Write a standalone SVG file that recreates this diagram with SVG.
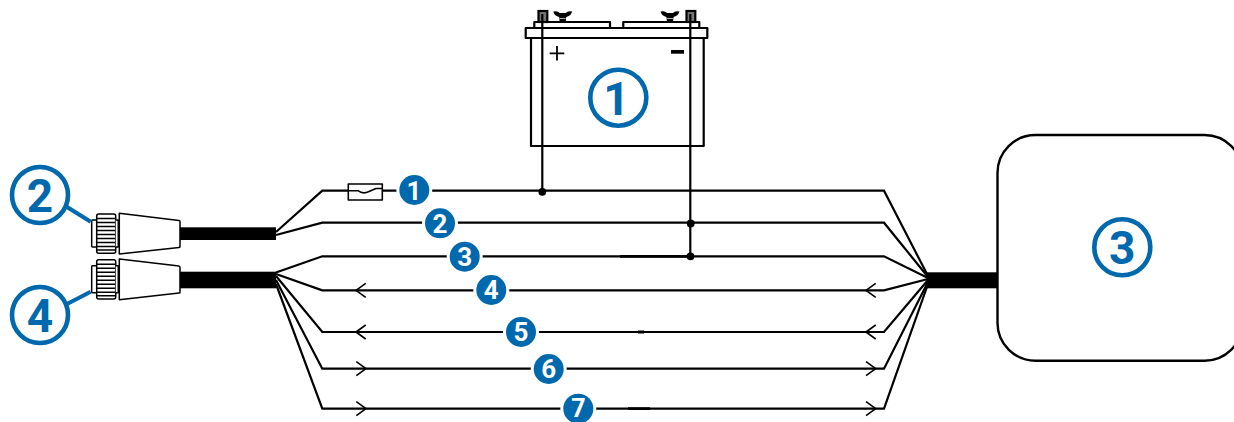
<svg xmlns="http://www.w3.org/2000/svg" width="1234" height="422" viewBox="0 0 1234 422">
<style>
.l{fill:none;stroke:#000;stroke-width:2.2;stroke-linejoin:round}
.a{fill:none;stroke:#000;stroke-width:1.600;stroke-linejoin:round}
.w{fill:none;stroke:#000;stroke-width:2.2;stroke-linejoin:miter}
.o{fill:#fff;stroke:#000;stroke-width:1.5;stroke-linejoin:round}
.k{fill:#000}
.rib{stroke:#000;stroke-width:1.500;fill:none}
.ring{fill:#fff;stroke:#0068ac;stroke-width:4.6}
.lead{stroke:#0068ac;stroke-width:4;fill:none}
.big{font:bold 46px Roboto,"Liberation Sans",Arial,sans-serif;fill:#0068ac;text-anchor:middle}
.bd{fill:#0068ac;stroke:#fff;stroke-width:6;paint-order:stroke}
.bt{font:bold 26px Roboto,"Liberation Sans",Arial,sans-serif;fill:#fff;text-anchor:middle}
</style>
<defs>
<g id="plug">
<path class="o" d="M96.700 220H92.500Q91.700 220 91.700 221V246Q91.700 247 92.500 247H96.700"/>
<rect class="o" x="96.700" y="214" width="19" height="39.300" rx="2"/>
<path class="rib" d="M97 218.500H115.500M97 222.500H115.500M97 226.500H115.500M97 230.500H115.500M97 234.500H115.500M97 238.500H115.500M97 242.500H115.500M97 246.500H115.500M97 250H115.500"/>
<path class="o" d="M115.700 220H118.300V247H115.700"/>
<path class="o" d="M119.300 213.300L179 220.400Q180 220.700 180 221.500V246.500Q180 247.300 179 247.400L119.300 254Z"/>
</g>
<g id="nut">
<path class="k" d="M-9.500 -2.500Q-5 -3.500 -3 -1L3 -1Q5 -3.500 9.500 -2.500Q8 2 3.500 3L3 8.500H-3L-3.500 3Q-8 2 -9.500 -2.500Z"/>
<path stroke="#fff" stroke-width=".7" d="M-3 4.500H3"/>
</g>
<path id="al" class="a" d="M9.700 -7L0 0L9.700 7"/>
<path id="ar" class="a" d="M-9.700 -7L0 0L-9.700 7"/>
</defs>

<g id="node-battery">
<rect class="l" x="531" y="38" width="172.700" height="108"/>
<rect class="l" x="534.300" y="22" width="75.700" height="6"/>
<rect class="l" x="623.300" y="22" width="76" height="6"/>
<rect class="l" x="525.700" y="28" width="181.600" height="10"/>
<rect x="538.500" y="11" width="8.800" height="11" fill="#777" stroke="#000" stroke-width="2.200"/>
<rect x="686.500" y="11" width="8.800" height="11" fill="#777" stroke="#000" stroke-width="2.200"/>
<use href="#nut" x="562.700" y="14"/>
<use href="#nut" x="670" y="14"/>
<path stroke="#000" stroke-width="1.800" d="M549.700 53.300H564.300M557 46V60.600"/>
<rect class="k" x="671" y="50" width="13" height="3.700"/>
<circle class="ring" cx="618.300" cy="97.700" r="28"/>
<text class="big" x="616.500" y="115">1</text>
</g>

<g id="connectors">
<path class="w" d="M542.300 14V190.700M690.300 14V256.300"/>
<path class="w" d="M276 232L322.300 190.700H348.300M382.300 190.700H884L928 276"/>
<path class="w" d="M276 235L322.300 222.700H884L928 277"/>
<path class="w" d="M276 272.500L322.300 256.300H884L928 278"/>
<path class="w" d="M276 274L322.300 290.300H884L928 279"/>
<path class="w" d="M276 276L322.300 332H884L928 280"/>
<path class="w" d="M276 280L322.300 368.700H884L928 282"/>
<path class="w" d="M276 284L322.300 408.700H884L928 284"/>
<path class="a" d="M348.300 190.700H358Q363 194.500 369 191.500L376 188.500H382.300"/>
<path stroke="#000" stroke-width="2.800" d="M620 256.300H690M638 332H644M628 408.700H650"/>
<circle class="k" cx="542.300" cy="191.800" r="3.900"/>
<circle class="k" cx="690.700" cy="223.500" r="3.900"/>
<circle class="k" cx="690.500" cy="256.300" r="3.900"/>
<use href="#al" x="356" y="290.300"/>
<use href="#al" x="356" y="332"/>
<use href="#ar" x="366" y="368.700"/>
<use href="#ar" x="366" y="408.700"/>
<use href="#al" x="866" y="290.300"/>
<use href="#al" x="866" y="332"/>
<use href="#ar" x="875.700" y="368.700"/>
<use href="#ar" x="875.700" y="408.700"/>
</g>

<g id="node-fuse"><rect x="348.300" y="184" width="34" height="16" class="a"/></g>

<g id="node-connector-2">
<rect class="k" x="180" y="227.300" width="96" height="12.700"/>
<use href="#plug"/>
<path class="lead" d="M67 207L90.700 221.700"/>
<circle class="ring" cx="40" cy="195" r="28"/>
<text class="big" x="40" y="211.500">2</text>
</g>
<g id="node-connector-4">
<rect class="k" x="180" y="271.700" width="96" height="16.600"/>
<use href="#plug" y="45.700"/>
<path class="lead" d="M67 304L90.700 291.700"/>
<circle class="ring" cx="40" cy="315" r="28"/>
<text class="big" x="40" y="331.500">4</text>
</g>

<g id="node-device">
<rect class="k" x="927" y="272.300" width="71" height="16"/>
<rect x="997.500" y="135" width="245" height="225.700" rx="38" fill="#fff" stroke="#000" stroke-width="2.400"/>
<circle class="ring" cx="1122.300" cy="247.300" r="28"/>
<text class="big" x="1122.300" y="263.500">3</text>
</g>

<g id="badge-1"><circle class="bd" cx="414.300" cy="190" r="15"/><text class="bt" x="414" y="199.500">1</text></g>
<g id="badge-2"><circle class="bd" cx="440" cy="223.300" r="15"/><text class="bt" x="440" y="232.600">2</text></g>
<g id="badge-3"><circle class="bd" cx="464.700" cy="256.700" r="15"/><text class="bt" x="464.700" y="266">3</text></g>
<g id="badge-4"><circle class="bd" cx="491.300" cy="290" r="15"/><text class="bt" x="491.300" y="299.300">4</text></g>
<g id="badge-5"><circle class="bd" cx="521" cy="332" r="15"/><text class="bt" x="521" y="341.300">5</text></g>
<g id="badge-6"><circle class="bd" cx="548.700" cy="369" r="15"/><text class="bt" x="548.700" y="378.300">6</text></g>
<g id="badge-7"><circle class="bd" cx="578.300" cy="408.700" r="15"/><text class="bt" x="578.300" y="416.500" style="font-size:25px">7</text></g>
</svg>
